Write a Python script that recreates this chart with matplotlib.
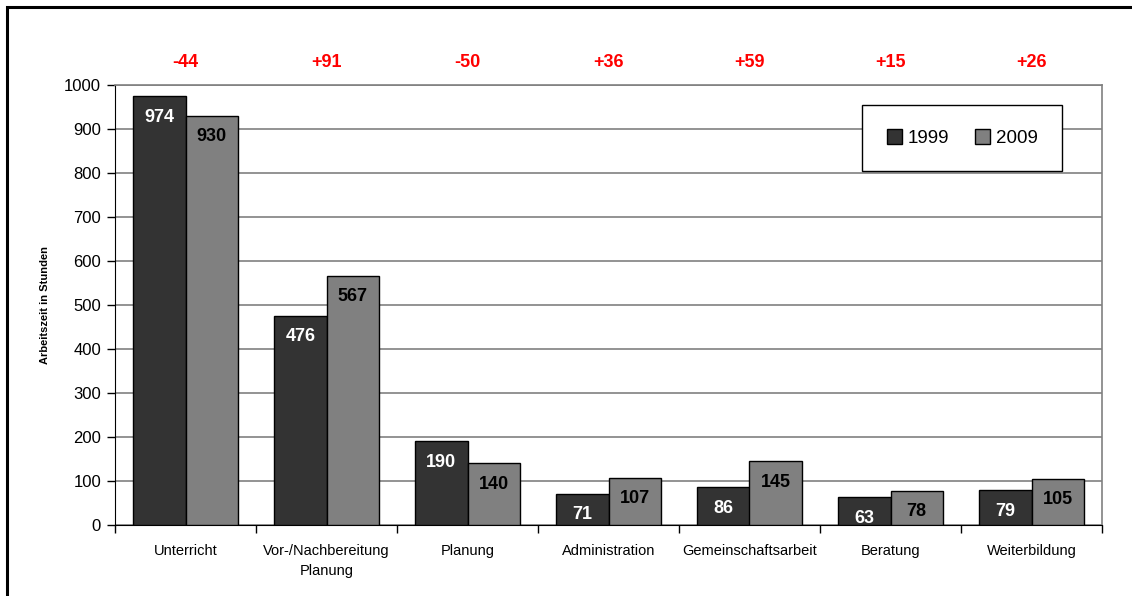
import numpy as np
import matplotlib.pyplot as plt
from matplotlib.patches import Rectangle
from matplotlib import font_manager

categories = ["Unterricht", "Vor-/Nachbereitung\nPlanung", "Planung", "Administration",
              "Gemeinschaftsarbeit", "Beratung", "Weiterbildung"]
v1999 = [974, 476, 190, 71, 86, 63, 79]
v2009 = [930, 567, 140, 107, 145, 78, 105]
deltas = ["-44", "+91", "-50", "+36", "+59", "+15", "+26"]
yticks = [0, 100, 200, 300, 400, 500, 600, 700, 800, 900, 1000]

names = {f.name for f in font_manager.fontManager.ttflist}
narrow = "Liberation Sans Narrow" if "Liberation Sans Narrow" in names else "Liberation Sans"
plt.rcParams['font.family'] = [narrow, 'DejaVu Sans']

fig = plt.figure(figsize=(11.32, 5.96), dpi=100)
# outer frame of the original chart
fig.patches.append(Rectangle((7 / 1132, -0.05), 1.2, 1 - 7 / 596 + 0.05, transform=fig.transFigure,
                             fill=False, edgecolor='black', linewidth=2.2))

ax = fig.add_axes([115 / 1132, 1 - 525 / 596, 987 / 1132, 440 / 596])
x = np.arange(len(categories))
w = 0.37
b1 = ax.bar(x - w / 2, v1999, w, color='#333333', edgecolor='black', linewidth=1, label='1999', zorder=3)
b2 = ax.bar(x + w / 2, v2009, w, color='#808080', edgecolor='black', linewidth=1, label='2009', zorder=3)

for rect, v in zip(b1, v1999):
    ax.annotate(str(v), (rect.get_x() + rect.get_width() / 2, v), xytext=(0, -9), textcoords='offset points',
                ha='center', va='top', color='white', fontsize=13, fontweight='bold', zorder=4)
for rect, v in zip(b2, v2009):
    ax.annotate(str(v), (rect.get_x() + rect.get_width() / 2, v), xytext=(0, -9), textcoords='offset points',
                ha='center', va='top', color='black', fontsize=13, fontweight='bold', zorder=4)

for xi, d in zip(x, deltas):
    ax.text(xi, 1050, d, ha='center', va='center', color='red', fontsize=13, fontweight='bold', clip_on=False)

ax.set_xlim(-0.5, len(categories) - 0.5)
ax.set_ylim(0, 1000)
ax.set_yticks(yticks)
ax.set_yticklabels([str(t) for t in yticks], family='Liberation Sans', fontsize=12)
ax.yaxis.grid(True, color='#808080', linewidth=1.2, zorder=0)
ax.set_axisbelow(True)

ax.set_xticks(x)
ax.set_xticklabels(categories, fontsize=10.5, linespacing=1.5)
ax.set_xticks(np.arange(len(categories) + 1) - 0.5, minor=True)
ax.tick_params(axis='x', which='major', length=0, pad=14)
ax.tick_params(axis='x', which='minor', length=6, width=1, direction='out')
ax.tick_params(axis='y', length=6, width=1, direction='out', pad=4)

ax.spines['left'].set_color('black')
ax.spines['bottom'].set_color('black')
ax.spines['top'].set_color('#808080')
ax.spines['right'].set_color('#808080')
ax.spines['right'].set_linewidth(1.2)
ax.spines['top'].set_linewidth(1.2)

ax.set_ylabel('Arbeitszeit in Stunden', family='Liberation Sans', fontsize=8, fontweight='bold', labelpad=10)

leg = ax.legend(loc='upper right', bbox_to_anchor=((1062 - 115) / 987, 1 - 20 / 440), ncol=2, fontsize=13.5,
                fancybox=False, framealpha=1, edgecolor='black', handlelength=0.8, handleheight=0.8,
                columnspacing=1.4, handletextpad=0.3, borderpad=1.3, borderaxespad=0)
leg.get_frame().set_linewidth(1)

fig.savefig("out.png", dpi=100)
